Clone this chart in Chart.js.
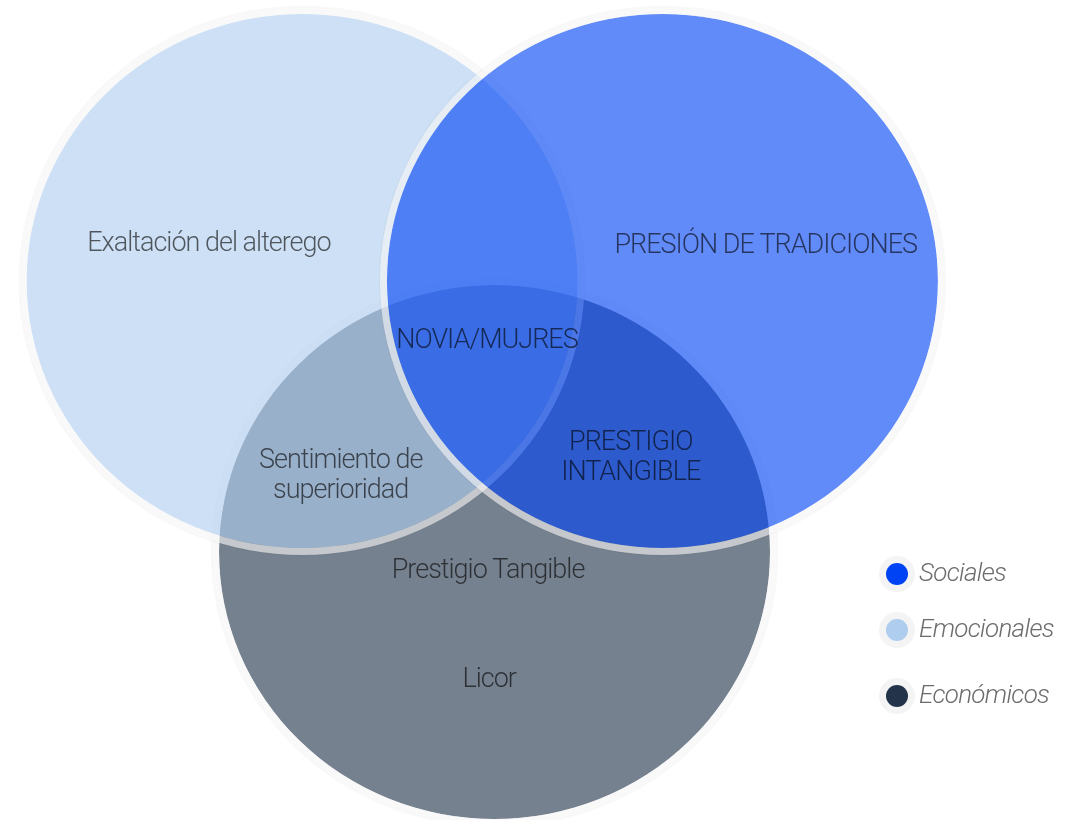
<!DOCTYPE html>
<html>
<head>
<meta charset="utf-8">
<script src="https://cdn.jsdelivr.net/npm/chart.js@4/dist/chart.umd.min.js"></script>
<style>
  html, body { margin: 0; padding: 0; background: #fff; }
  #wrap { width: 1065px; height: 820px; }
</style>
</head>
<body>
<div id="wrap"><canvas id="venn"></canvas></div>
<script>
// grupos del diagrama (centros y radio en unidades del grafico)
const grupos = ['Sociales', 'Emocionales', 'Económicos'];
const centroX = [0.654, -0.654, 0.0445];
const centroY = [0, 0, -1.015];
const radio = [1, 1, 1];
const colores = ['#0043f5', '#aecdef', '#22334a'];

// textos dentro de las zonas
const etiquetas = [
  ['Exaltación del alterego'],
  ['PRESIÓN DE TRADICIONES'],
  ['NOVIA/MUJRES'],
  ['PRESTIGIO', 'INTANGIBLE'],
  ['Sentimiento de', 'superioridad'],
  ['Prestigio Tangible'],
  ['Licor']
];
const etiquetaX = [-0.992, 1.029, 0.017, 0.539, -0.514, 0.021, 0.025];
const etiquetaY = [0.139, 0.131, -0.224, -0.665, -0.730, -1.086, -1.494];

const fuente = '300 27px Roboto, "Liberation Sans", sans-serif';

function elipse(chart, p) {
  const x = chart.scales.x, y = chart.scales.y;
  const cx = x.getPixelForValue(p.x);
  const cy = y.getPixelForValue(p.y);
  const rx = x.getPixelForValue(p.x + p.r) - cx;
  const ry = cy - y.getPixelForValue(p.y + p.r);
  return { cx, cy, rx, ry };
}

const circulos = {
  id: 'circulos',
  beforeDatasetsDraw(chart) {
    const ctx = chart.ctx;
    // se pintan al reves: primero Economicos, luego Emocionales, luego Sociales
    for (let i = chart.data.datasets.length - 1; i >= 0; i--) {
      const ds = chart.data.datasets[i];
      const e = elipse(chart, ds.data[0]);
      ctx.save();
      ctx.globalAlpha = 0.62;
      ctx.fillStyle = ds.backgroundColor;
      ctx.beginPath();
      ctx.ellipse(e.cx, e.cy, e.rx, e.ry, 0, 0, Math.PI * 2);
      ctx.fill();
      ctx.globalAlpha = 1;
      ctx.strokeStyle = 'rgba(246,246,246,0.62)';
      ctx.lineWidth = 7;
      ctx.beginPath();
      ctx.ellipse(e.cx, e.cy, e.rx + 3.5, e.ry + 3.5, 0, 0, Math.PI * 2);
      ctx.stroke();
      ctx.strokeStyle = 'rgba(0,0,0,0.025)';
      ctx.lineWidth = 1.5;
      ctx.beginPath();
      ctx.ellipse(e.cx, e.cy, e.rx + 7.5, e.ry + 7.5, 0, 0, Math.PI * 2);
      ctx.stroke();
      ctx.restore();
    }
  },
  afterDatasetsDraw(chart) {
    const ctx = chart.ctx;
    const x = chart.scales.x, y = chart.scales.y;
    ctx.save();
    ctx.font = fuente;
    ctx.letterSpacing = '-1px';
    ctx.fillStyle = 'rgba(0,0,0,0.62)';
    ctx.textAlign = 'center';
    ctx.textBaseline = 'middle';
    etiquetas.forEach((lineas, i) => {
      const px = x.getPixelForValue(etiquetaX[i]);
      const py = y.getPixelForValue(etiquetaY[i]);
      const alto = 30;
      lineas.forEach((t, j) => {
        ctx.fillText(t, px, py + (j - (lineas.length - 1) / 2) * alto);
      });
    });
    ctx.restore();

    // leyenda a la derecha
    const filas = [574, 630, 696];
    ctx.save();
    chart.data.datasets.forEach((ds, i) => {
      ctx.fillStyle = '#f4f4f4';
      ctx.beginPath();
      ctx.arc(897, filas[i], 18, 0, Math.PI * 2);
      ctx.fill();
      ctx.fillStyle = ds.backgroundColor;
      ctx.beginPath();
      ctx.arc(897, filas[i], 11, 0, Math.PI * 2);
      ctx.fill();
      ctx.font = 'italic 300 26px Roboto, "Liberation Sans", sans-serif';
      ctx.letterSpacing = '-0.7px';
      ctx.fillStyle = '#6b6b6b';
      ctx.textAlign = 'left';
      ctx.textBaseline = 'middle';
      ctx.fillText(ds.label, 919, filas[i]);
    });
    ctx.restore();
  }
};

const ctxV = document.getElementById('venn').getContext('2d');
const venn = new Chart(ctxV, {
  type: 'scatter',
  data: {
    datasets: grupos.map((g, i) => ({
      label: g,
      data: [{ x: centroX[i], y: centroY[i], r: radio[i] }],
      backgroundColor: colores[i],
      pointRadius: 0,
      pointHoverRadius: 0
    }))
  },
  options: {
    responsive: true,
    maintainAspectRatio: false,
    animation: false,
    layout: { padding: 0 },
    plugins: {
      legend: { display: false },
      tooltip: { enabled: false }
    },
    scales: {
      x: { type: 'linear', display: false, min: -1.7505, max: 2.1152 },
      y: { type: 'linear', display: false, min: -2.0187, max: 1.0524 }
    }
  },
  plugins: [circulos]
});
</script>
</body>
</html>
